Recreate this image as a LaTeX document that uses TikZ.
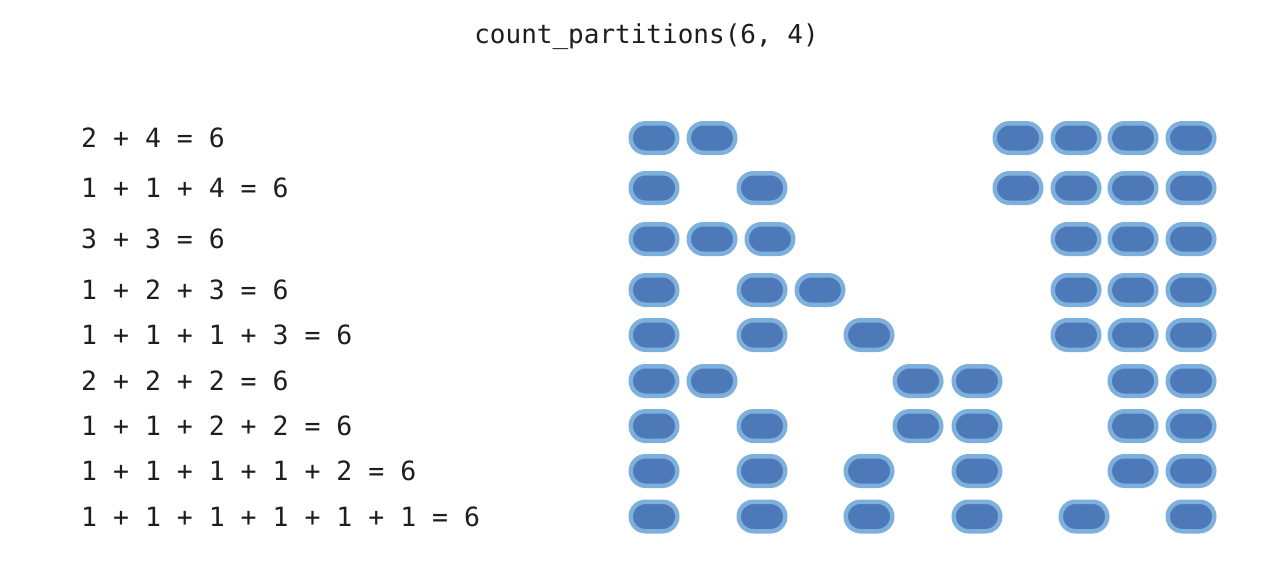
\documentclass[tikz,border=0pt]{standalone}
\usepackage{fontspec}
\setmonofont{DejaVu Sans Mono}
\definecolor{pilldark}{RGB}{77,121,185}
\definecolor{pilllight}{RGB}{125,176,220}
\definecolor{txt}{RGB}{30,30,30}
\begin{document}
\begin{tikzpicture}[x=1pt,y=-1pt,
  pill/.style={draw=pilllight,fill=pilldark,line width=4.5pt,rectangle,
    minimum width=46.5pt,minimum height=29.5pt,rounded corners=14.7pt,inner sep=0pt},
  eq/.style={anchor=base west,inner sep=0pt,text=txt,font=\ttfamily\fontsize{26.5}{30}\selectfont},
  ttl/.style={anchor=base,inner sep=0pt,text=txt,font=\ttfamily\fontsize{26}{30}\selectfont}]
\useasboundingbox[fill=white] (0,0) rectangle (1280,568);
\node[ttl] (title) at (646.5,43) {count\_partitions(6, 4)};
\foreach \y/\t [count=\i] in {138/{2 + 4 = 6},188/{1 + 1 + 4 = 6},239/{3 + 3 = 6},290/{1 + 2 + 3 = 6},335/{1 + 1 + 1 + 3 = 6},381/{2 + 2 + 2 = 6},426/{1 + 1 + 2 + 2 = 6},471/{1 + 1 + 1 + 1 + 2 = 6},516.5/{1 + 1 + 1 + 1 + 1 + 1 = 6}}
  \node[eq] (eq\i) at (81,\y+9.8) {\t};
\foreach \y/\xs [count=\i] in {
  138/{654,712,1018,1076,1133,1191},
  188/{654,762,1018,1076,1133,1191},
  239/{654,712,770,1076,1133,1191},
  290/{654,762,820,1076,1133,1191},
  335/{654,762,869,1076,1133,1191},
  381/{654,712,918,977,1133,1191},
  426/{654,762,918,977,1133,1191},
  471/{654,762,869,977,1133,1191},
  516.5/{654,762,869,977,1084,1191}}
  \foreach \x [count=\j] in \xs
    \node[pill] (p\i-\j) at (\x,\y) {};
\end{tikzpicture}
\end{document}
